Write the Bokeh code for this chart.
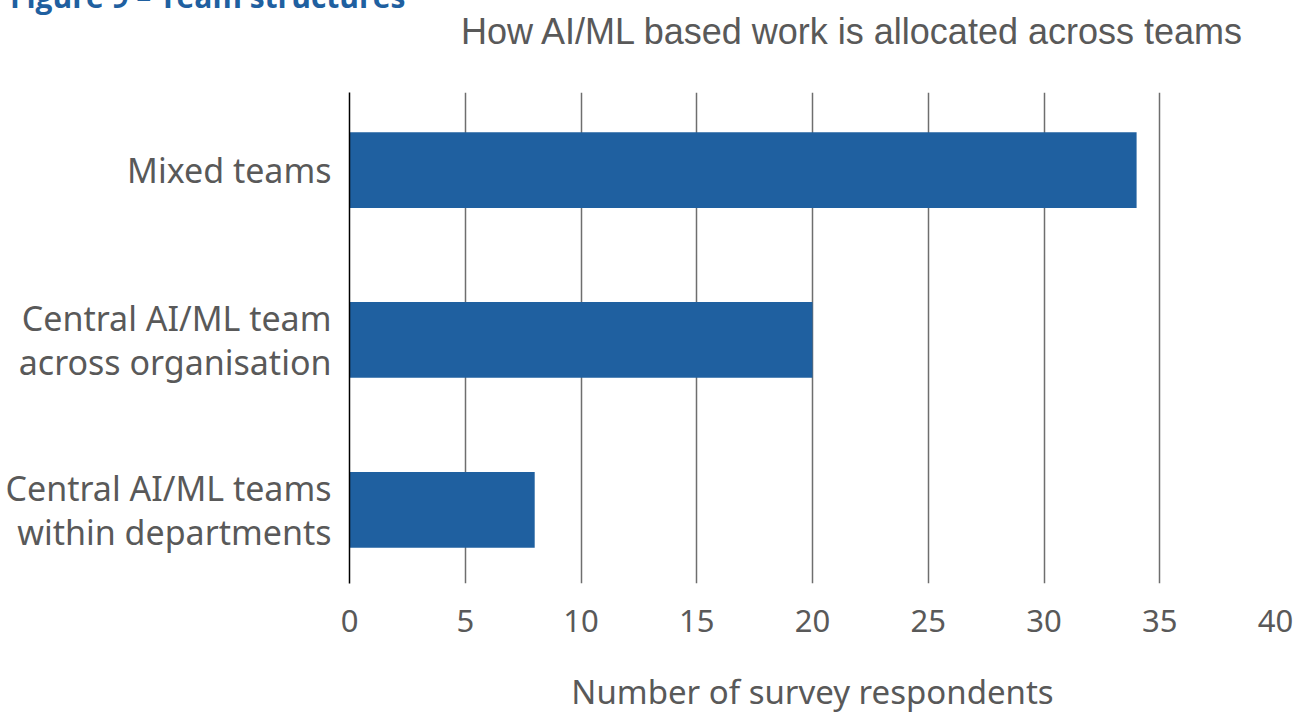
from bokeh.plotting import figure
from bokeh.models import Range1d, FixedTicker, Div
from bokeh.layouts import column
from bokeh.embed import file_html
from bokeh.resources import INLINE

caption = "Figure 9 \u2013 Team structures"
chart_title = "How AI/ML based work is allocated across teams"
categories = ["Central AI/ML teams\nwithin departments", "Central AI/ML team\nacross organisation", "Mixed teams"]
positions = [0, 1, 2]
respondents = [8, 20, 34]
x_ticks = [0, 5, 10, 15, 20, 25, 30, 35, 40]

GRAY = "#595959"
BLUE = "#1F60A0"

# Header strip: the (cut-off) figure caption and the chart title
header_html = (
    '<div style="position:absolute; left:10px; top:-18px; white-space:nowrap; '
    'font-family:\'Open Sans\'; font-weight:bold; font-size:30px; line-height:1; '
    'color:%s;">%s</div>'
    '<div style="position:absolute; left:461px; top:14px; white-space:nowrap; '
    'font-family:\'Liberation Sans\'; font-weight:normal; font-size:36px; line-height:1; '
    'color:%s;">%s</div>'
) % (BLUE, caption, GRAY, chart_title)
top = Div(text=header_html, width=1296, height=92, margin=0,
          styles={"overflow": "hidden", "position": "relative"})

p = figure(width=1296, height=624, output_backend="svg", toolbar_location=None, title=None,
           x_range=Range1d(0, 40), y_range=Range1d(-0.434, 2.457),
           min_border_left=349, min_border_right=21, min_border_top=0, min_border_bottom=131)
p.outline_line_color = None

p.hbar(y=positions, right=respondents, left=0, height=0.446, color=BLUE, line_color=None)

xa = p.below[0]
xa.ticker = FixedTicker(ticks=x_ticks)
xa.axis_line_color = None
xa.major_tick_line_color = None
xa.minor_tick_line_color = None
xa.major_label_text_font = "Noto Sans"
xa.major_label_text_font_size = "31px"
xa.major_label_text_color = GRAY
xa.major_label_standoff = 20
xa.axis_label = "Number of survey respondents"
xa.axis_label_text_font = "Noto Sans"
xa.axis_label_text_font_size = "33px"
xa.axis_label_text_font_style = "normal"
xa.axis_label_text_line_height = 0.9
xa.axis_label_text_color = GRAY
xa.axis_label_standoff = 34

p.yaxis.ticker = FixedTicker(ticks=positions)
p.yaxis.major_label_overrides = {pos: lab for pos, lab in zip(positions, categories)}
p.yaxis.axis_line_color = "black"
p.yaxis.axis_line_width = 1.5
p.yaxis.major_tick_line_color = None
p.yaxis.minor_tick_line_color = None
p.yaxis.major_label_text_font = "Noto Sans"
p.yaxis.major_label_text_font_size = "34px"
p.yaxis.major_label_text_line_height = 0.95
p.yaxis.major_label_text_color = GRAY
p.yaxis.major_label_standoff = 12

p.ygrid.grid_line_color = None
p.xgrid.grid_line_color = "#6E6E6E"
p.xgrid.grid_line_width = 1.5

layout = column(top, p, spacing=0)
open("out.html", "w").write(file_html(layout, INLINE))
